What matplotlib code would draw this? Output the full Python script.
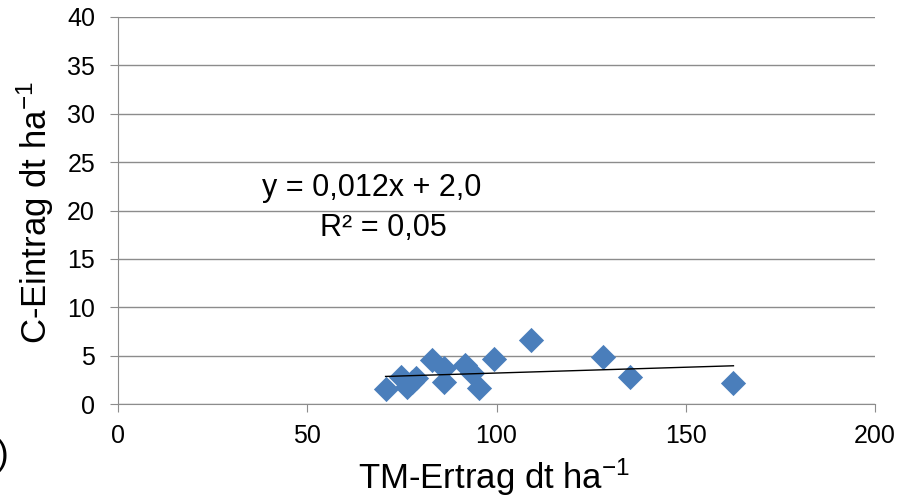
import matplotlib
matplotlib.use("Agg")
import matplotlib.pyplot as plt
import numpy as np

plt.rcParams['font.family'] = ['Liberation Sans', 'DejaVu Sans']
plt.rcParams['mathtext.fontset'] = 'custom'
plt.rcParams['mathtext.rm'] = 'Liberation Sans'
plt.rcParams['mathtext.it'] = 'Liberation Sans'

tm_ertrag = [70.7, 74.7, 76.3, 77.6, 78.7, 82.9, 86.2, 86.2, 91.7, 93.4, 95.4, 99.4, 109.1, 128.2, 135.3, 162.6]
c_eintrag = [1.55, 2.8, 1.8, 2.3, 2.65, 4.5, 3.7, 2.3, 4.0, 3.2, 1.7, 4.7, 6.6, 4.9, 2.8, 2.2]
slope, intercept = 0.012, 2.0
x_ticks = [0, 50, 100, 150, 200]
y_ticks = [0, 5, 10, 15, 20, 25, 30, 35, 40]

W, H = 913, 503
fig = plt.figure(figsize=(W/100, H/100), dpi=100)
L, R, T, B = 118, 875, 17, 404
ax = fig.add_axes([L/W, 1-B/H, (R-L)/W, (B-T)/H])

def ax_xy(px, py):
    return (px - L)/(R - L), (B - py)/(B - T)

ax.scatter(tm_ertrag, c_eintrag, marker='D', s=165, color='#4A7EBB', zorder=3, linewidths=0)
xl = np.array([min(tm_ertrag), max(tm_ertrag)])
ax.plot(xl, slope*xl + intercept, color='black', lw=1, zorder=4)

ax.set_xlim(0, 200)
ax.set_ylim(0, 40)
ax.set_xticks(x_ticks)
ax.set_yticks(y_ticks)
ax.yaxis.grid(True, color='#8c8c8c', lw=1)
ax.set_axisbelow(True)
for s in ['top', 'right']:
    ax.spines[s].set_visible(False)
for s in ['left', 'bottom']:
    ax.spines[s].set_color('#8c8c8c')
ax.tick_params(axis='both', colors='#8c8c8c', labelcolor='black', labelsize=18, length=5.5)
ax.tick_params(axis='y', pad=11)
ax.tick_params(axis='x', pad=9)

ax.set_xlabel(r'TM-Ertrag dt ha$^{\mathregular{-1}}$', fontsize=25)
ax.set_ylabel(r'C-Eintrag dt ha$^{\mathregular{-1}}$', fontsize=25)
ax.xaxis.set_label_coords(*ax_xy(494, 457))
ax.yaxis.set_label_coords(*ax_xy(56, 213))

x1, y1 = ax_xy(262, 196)
ax.text(x1, y1, 'y = 0,012x + 2,0', transform=ax.transAxes, fontsize=22, ha='left', va='baseline')
x2, y2 = ax_xy(320, 236)
ax.text(x2, y2, 'R² = 0,05', transform=ax.transAxes, fontsize=22, ha='left', va='baseline')

fig.text(8/W, 1-455/H, ')', fontsize=25, ha='right', va='center')

fig.savefig('out.png', dpi=100)
